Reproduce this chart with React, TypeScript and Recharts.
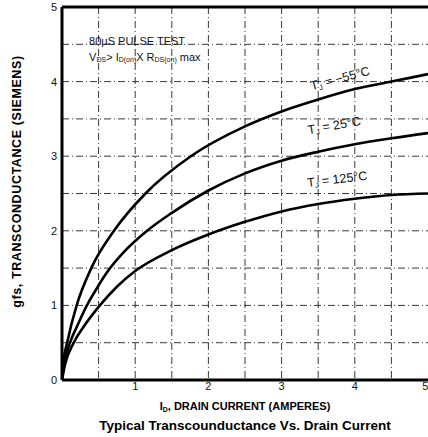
import React from 'react';
import { LineChart, Line, XAxis, YAxis, CartesianGrid, ReferenceLine, ReferenceDot, Label } from 'recharts';

const xTicks = [1, 2, 3, 4, 5];
const yTicks = [0, 1, 2, 3, 4, 5];
const gridX = [0.5, 1, 1.5, 2, 2.5, 3, 3.5, 4, 4.5];
const gridY = [0.5, 1, 1.5, 2, 2.5, 3, 3.5, 4, 4.5];

const curveM55 = [
  { x: 0, y: 0 }, { x: 0.02, y: 0.25 }, { x: 0.07, y: 0.5 }, { x: 0.2, y: 1.0 }, { x: 0.4, y: 1.5 },
  { x: 0.71, y: 2.0 }, { x: 1.14, y: 2.5 }, { x: 1.76, y: 3.0 }, { x: 2.5, y: 3.4 },
  { x: 3, y: 3.6 }, { x: 3.5, y: 3.76 }, { x: 4, y: 3.9 }, { x: 4.5, y: 4.0 }, { x: 5, y: 4.1 },
];
const curve25 = [
  { x: 0, y: 0 }, { x: 0.03, y: 0.22 }, { x: 0.11, y: 0.5 }, { x: 0.22, y: 0.75 }, { x: 0.34, y: 1.0 },
  { x: 0.47, y: 1.22 }, { x: 0.62, y: 1.45 }, { x: 0.85, y: 1.72 }, { x: 1.15, y: 1.99 }, { x: 1.5, y: 2.24 },
  { x: 2, y: 2.54 }, { x: 2.5, y: 2.77 }, { x: 3, y: 2.94 }, { x: 3.5, y: 3.06 }, { x: 4, y: 3.16 },
  { x: 4.5, y: 3.24 }, { x: 5, y: 3.31 },
];
const curve125 = [
  { x: 0, y: 0 }, { x: 0.04, y: 0.2 }, { x: 0.16, y: 0.5 }, { x: 0.3, y: 0.72 }, { x: 0.5, y: 0.98 },
  { x: 0.75, y: 1.25 }, { x: 1, y: 1.46 }, { x: 1.5, y: 1.74 }, { x: 2, y: 1.95 }, { x: 2.5, y: 2.12 },
  { x: 3, y: 2.26 }, { x: 3.5, y: 2.36 }, { x: 4, y: 2.43 }, { x: 4.5, y: 2.48 }, { x: 5, y: 2.5 },
];

const curveLabels = [
  { x: 3.8, y: 4.04, rot: -15, temp: '−55°C' },
  { x: 3.72, y: 3.41, rot: -10, temp: '25°C' },
  { x: 3.76, y: 2.69, rot: -7, temp: '125°C' },
];

const FONT = 'Liberation Sans, Arial, Helvetica, sans-serif';
const INK = '#111';

const TempLabel = (props: any) => {
  const { viewBox, rot, temp } = props;
  const cx = viewBox.x + (viewBox.width || 0) / 2;
  const cy = viewBox.y + (viewBox.height || 0) / 2;
  return (
    <text x={cx} y={cy} textAnchor="middle" dominantBaseline="central" fontFamily={FONT} fontSize={12.5}
      fill={INK} transform={`rotate(${rot} ${cx} ${cy})`}>
      <tspan fill={INK}>T</tspan>
      <tspan fill={INK} fontSize={7.5} dy={3}>J</tspan>
      <tspan fill={INK} dy={-3}>{' = ' + temp}</tspan>
    </text>
  );
};

const NoteLabel = (props: any) => {
  const { viewBox } = props;
  const x = viewBox.x;
  const y = viewBox.y;
  return (
    <g fontFamily={FONT} fontSize={11}>
      <text x={x} y={y} dominantBaseline="central" fill={INK}>80μS PULSE TEST</text>
      <text x={x} y={y + 16} dominantBaseline="central" fill={INK}>
        <tspan fill={INK}>V</tspan>
        <tspan fill={INK} fontSize={7} dy={2}>DS</tspan>
        <tspan fill={INK} dy={-2}>{'> I'}</tspan>
        <tspan fill={INK} fontSize={7} dy={2}>D(on)</tspan>
        <tspan fill={INK} dy={-2}>X R</tspan>
        <tspan fill={INK} fontSize={7} dy={2}>DS(on)</tspan>
        <tspan fill={INK} dy={-2}> max</tspan>
      </text>
    </g>
  );
};

const XTitle = (props: any) => {
  const { viewBox } = props;
  const cx = viewBox.x + viewBox.width / 2;
  return (
    <g fontFamily={FONT}>
      <text x={cx} y={viewBox.y + 26} textAnchor="middle" dominantBaseline="central" fontSize={11} fontWeight="bold" fill="#000">
        <tspan fill="#000">I</tspan>
        <tspan fill="#000" fontSize={7} dy={3}>D</tspan>
        <tspan fill="#000" dy={-3}>, DRAIN CURRENT (AMPERES)</tspan>
      </text>
      <text x={cx} y={viewBox.y + 45} textAnchor="middle" dominantBaseline="central" fontSize={13.5} fontWeight="bold" fill="#000">
        Typical Transcounductance Vs. Drain Current
      </text>
    </g>
  );
};

const YTitle = (props: any) => {
  const { viewBox } = props;
  const cx = 17;
  const cy = viewBox.y + viewBox.height / 2 - 12;
  return (
    <text x={cx} y={cy} textAnchor="middle" dominantBaseline="central" fontFamily={FONT} fontSize={12.5}
      fontWeight="bold" fill="#000" letterSpacing={0.6} transform={`rotate(-90 ${cx} ${cy})`}>
      gfs, TRANSCONDUCTANCE (SIEMENS)
    </text>
  );
};

export default function App() {
  return (
    <div style={{ position: 'absolute', left: 0, top: 0, width: 428, height: 437, background: '#fff' }}>
      <LineChart width={428} height={437} margin={{ top: 7, right: 0, left: 0, bottom: 0 }}>
        <CartesianGrid verticalValues={gridX} horizontalValues={gridY} stroke="#222" strokeWidth={0.9}
          strokeDasharray="7 3 1 3" />
        <XAxis dataKey="x" type="number" domain={[0, 5]} ticks={xTicks} allowDataOverflow
          height={57} axisLine={{ stroke: '#000', strokeWidth: 3 }} tickLine={false} tickSize={2} tickMargin={0}
          tick={{ fontSize: 11, fill: INK, fontFamily: FONT }}>
          <Label content={<XTitle />} />
        </XAxis>
        <YAxis type="number" domain={[0, 5]} ticks={yTicks} allowDataOverflow width={62}
          axisLine={{ stroke: '#000', strokeWidth: 3 }} tickLine={false} tickSize={5} tickMargin={0}
          tick={{ fontSize: 11, fill: INK, fontFamily: FONT }}>
          <Label content={<YTitle />} />
        </YAxis>
        <ReferenceLine y={5} stroke="#000" strokeWidth={3} />
        <Line data={curveM55} dataKey="y" type="monotone" stroke="#000" strokeWidth={2.6} dot={false} isAnimationActive={false} />
        <Line data={curve25} dataKey="y" type="monotone" stroke="#000" strokeWidth={2.6} dot={false} isAnimationActive={false} />
        <Line data={curve125} dataKey="y" type="monotone" stroke="#000" strokeWidth={2.6} dot={false} isAnimationActive={false} />
        {curveLabels.map((c) => (
          <ReferenceDot key={c.temp} x={c.x} y={c.y} r={0} stroke="none" fill="none"
            label={<TempLabel rot={c.rot} temp={c.temp} />} />
        ))}
        <ReferenceDot x={0.37} y={4.54} r={0} stroke="none" fill="none" label={<NoteLabel />} />
      </LineChart>
    </div>
  );
}
